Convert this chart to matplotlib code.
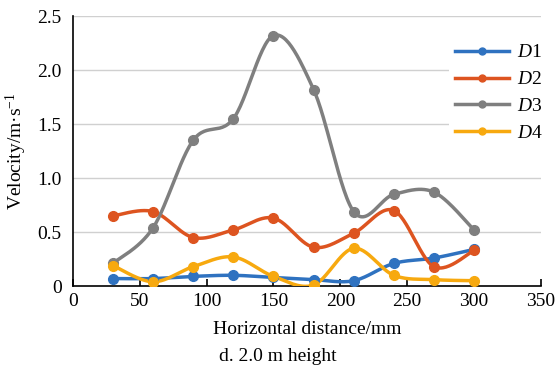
import matplotlib
matplotlib.use("Agg")
import matplotlib.pyplot as plt
import numpy as np

plt.rcParams['font.family'] = ['Liberation Serif', 'DejaVu Serif']
plt.rcParams['mathtext.fontset'] = 'custom'
plt.rcParams['mathtext.rm'] = 'Liberation Serif'
plt.rcParams['mathtext.it'] = 'Liberation Serif:italic'

# Data
distance = [30, 60, 90, 120, 150, 180, 210, 240, 270, 300]
d1 = [0.07, 0.07, 0.09, 0.10, 0.08, 0.06, 0.05, 0.21, 0.26, 0.34]
d2 = [0.65, 0.69, 0.45, 0.52, 0.63, 0.36, 0.49, 0.70, 0.18, 0.33]
d3 = [0.21, 0.54, 1.35, 1.55, 2.32, 1.82, 0.69, 0.85, 0.87, 0.52]
d4 = [0.19, 0.04, 0.18, 0.27, 0.09, 0.01, 0.35, 0.10, 0.06, 0.05]
series_names = ['$D$1', '$D$2', '$D$3', '$D$4']
colors = ['#2F72C0', '#DD5420', '#7F7F7F', '#F7A90F']


def smooth(x, y, n=30):
    """Excel-like smoothed line (Catmull-Rom bezier through the points)"""
    x = np.asarray(x, float)
    y = np.asarray(y, float)
    px = np.concatenate([[x[0]], x, [x[-1]]])
    py = np.concatenate([[y[0]], y, [y[-1]]])
    xs, ys = [], []
    t = np.linspace(0, 1, n)
    for i in range(1, len(px) - 2):
        p0 = np.array([px[i], py[i]])
        p3 = np.array([px[i + 1], py[i + 1]])
        p1 = p0 + (p3 - np.array([px[i - 1], py[i - 1]])) / 6
        p2 = p3 - (np.array([px[i + 2], py[i + 2]]) - p0) / 6
        b = ((1 - t) ** 3)[:, None] * p0 + (3 * (1 - t) ** 2 * t)[:, None] * p1 \
            + (3 * (1 - t) * t ** 2)[:, None] * p2 + (t ** 3)[:, None] * p3
        xs.extend(b[:, 0])
        ys.extend(b[:, 1])
    return xs, ys


fig = plt.figure(figsize=(5.56, 3.74), dpi=100)
ax = fig.add_axes([0.131, 0.235, 0.842, 0.722])

for vals, name, c in zip([d1, d2, d3, d4], series_names, colors):
    sx, sy = smooth(distance, vals)
    ax.plot(sx, sy, color=c, lw=2.5, solid_capstyle='round', zorder=3)
    ax.plot(distance, vals, 'o', color=c, ms=7, zorder=4)
    # legend handle
    ax.plot([], [], '-o', color=c, lw=2.5, ms=5, label=name)

ax.set_xlim(0, 350)
ax.set_ylim(0, 2.5)
ax.set_xticks(np.arange(0, 351, 50))
ax.set_yticks([0, 0.5, 1.0, 1.5, 2.0, 2.5])
ax.set_yticklabels(['0', '0.5', '1.0', '1.5', '2.0', '2.5'])
for yv in [0.5, 1.0, 1.5, 2.0, 2.5]:
    ax.axhline(yv, color='#D0D0D0', lw=1, zorder=1)

for s in ['top', 'right']:
    ax.spines[s].set_visible(False)
ax.spines['left'].set_linewidth(1.2)
ax.spines['bottom'].set_linewidth(1.2)
ax.tick_params(axis='x', direction='in', length=5, width=1.2, labelsize=14, pad=5)
ax.tick_params(axis='y', length=0, labelsize=14, pad=8)

ax.set_xlabel('Horizontal distance/mm', fontsize=14, labelpad=8)
ax.set_ylabel('Velocity/m·s$^{-1}$', fontsize=14, labelpad=6)

leg = ax.legend(loc='upper left', bbox_to_anchor=(0.783, 0.955), frameon=True,
                framealpha=1, edgecolor='none', fontsize=14, handlelength=2.8,
                labelspacing=0.48, borderpad=0.3, handletextpad=0.4)
leg.set_zorder(5)

fig.text(0.5, 0.035, 'd. 2.0 m height', ha='center', fontsize=14)

fig.savefig('out.png', dpi=100)
